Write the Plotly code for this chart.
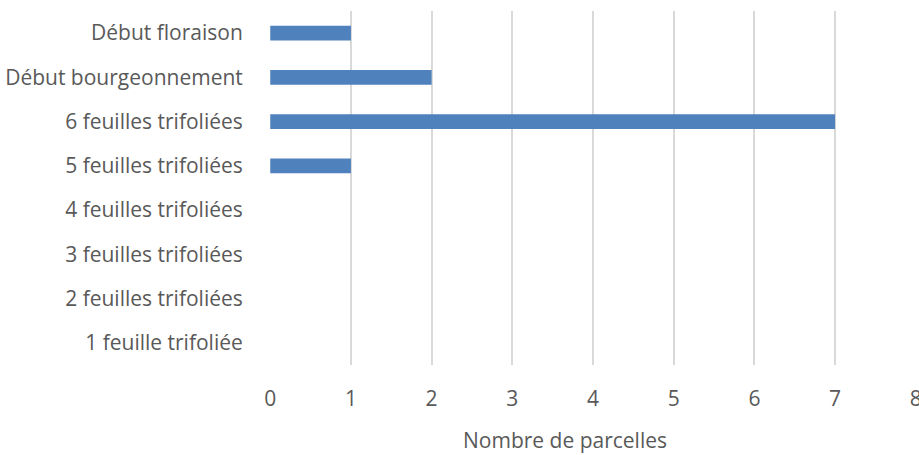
import plotly.graph_objects as go

categories = ["1 feuille trifoliée", "2 feuilles trifoliées", "3 feuilles trifoliées",
              "4 feuilles trifoliées", "5 feuilles trifoliées", "6 feuilles trifoliées",
              "Début bourgeonnement", "Début floraison"]
values = [0, 0, 0, 0, 1, 7, 2, 1]
x_ticks = [0, 1, 2, 3, 4, 5, 6, 7, 8]
x_title = "Nombre de parcelles"

font = dict(family="Open Sans", size=21, color="#595959")

fig = go.Figure(go.Bar(
    y=categories, x=values, orientation="h",
    marker=dict(color="#4F81BD", line=dict(width=0)),
    width=0.33,
))

fig.update_layout(
    width=919, height=455,
    margin=dict(l=270, r=3, t=11, b=90),
    paper_bgcolor="white", plot_bgcolor="white",
    font=font, showlegend=False,
    bargap=0.67,
)
fig.update_xaxes(
    range=[-0.003, 8.003], tickvals=x_ticks, automargin=False,
    showgrid=True, gridcolor="#D9D9D9", gridwidth=1.5,
    zeroline=False, showline=False,
    ticks="outside", ticklen=15, tickcolor="rgba(0,0,0,0)",
    ticklabeloverflow="allow",
    tickfont=font,
)
fig.update_yaxes(
    categoryorder="array", categoryarray=categories,
    range=[-0.5, 7.5], automargin=False,
    showgrid=False, zeroline=False, showline=False,
    ticks="outside", ticklen=22, tickcolor="rgba(0,0,0,0)",
    tickfont=font,
)
fig.add_annotation(
    text=x_title, xref="paper", yref="paper",
    x=0.456, y=-0.212, xanchor="center", yanchor="middle",
    showarrow=False, font=font,
)

fig.write_html("out.html")
